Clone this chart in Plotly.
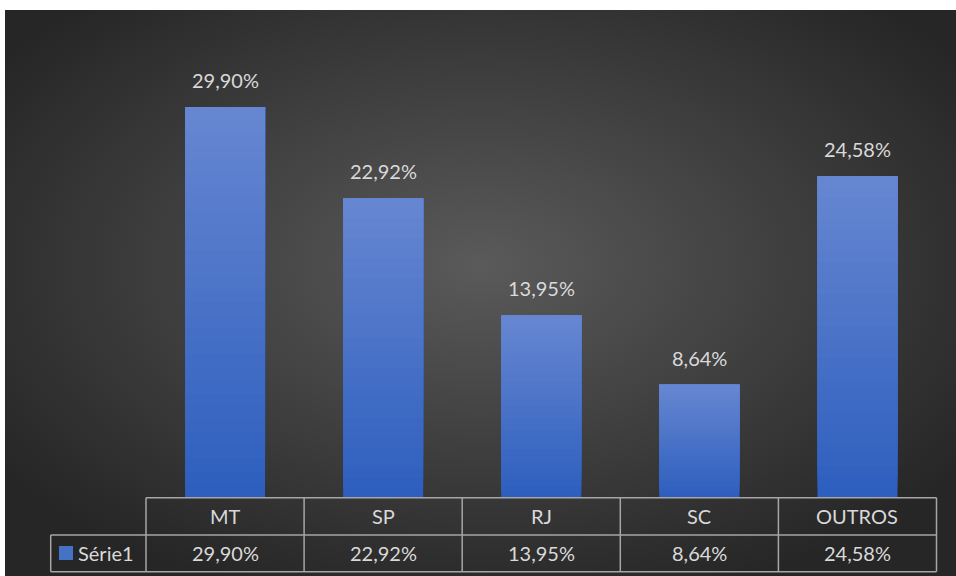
import plotly.graph_objects as go
import urllib.parse

categories = ["MT", "SP", "RJ", "SC", "OUTROS"]
values = [29.90, 22.92, 13.95, 8.64, 24.58]
series_name = "Série1"

W, H = 956, 576
def px(x):
    return x / W
def py(y):
    return 1 - y / H

def fmt(v):
    return f"{v:.2f}".replace(".", ",") + "%"

# table geometry (pixels)
col_left, col_right = 146, 936.5
row_top, row_mid, row_bot = 497.7, 535, 571.7
leg_left = 50.7
ncol = len(categories)
colw = (col_right - col_left) / ncol

FONT = "Lato"
TXT = "#d9d9d9"
LINE = "#a6a6a6"

top_c = (0x66, 0x86, 0xd1)
bot_c = (0x2e, 0x5f, 0xbe)
N = 30

fig = go.Figure()
for k in range(N):
    t = k / (N - 1)
    c = tuple(round(bot_c[i] + (top_c[i] - bot_c[i]) * t) for i in range(3))
    frac = k / N
    fig.add_trace(go.Bar(
        x=categories,
        y=[v * (1 - frac) for v in values],
        base=[v * frac for v in values],
        marker=dict(color="rgb(%d,%d,%d)" % c, line=dict(width=0)),
        showlegend=False, hoverinfo="skip",
    ))

svg = ("<svg xmlns='http://www.w3.org/2000/svg' width='951' height='566' viewBox='0 0 951 566' preserveAspectRatio='none'>"
       "<defs><radialGradient id='g' cx='50%' cy='45%' r='62%'>"
       "<stop offset='0' stop-color='#5a5a5a'/><stop offset='1' stop-color='#262626'/>"
       "</radialGradient></defs><rect width='951' height='566' fill='url(#g)'/></svg>")
src = "data:image/svg+xml;charset=utf-8," + urllib.parse.quote(svg)

shapes = []
def hline(x0, x1, y):
    shapes.append(dict(type="line", xref="paper", yref="paper", x0=px(x0), x1=px(x1), y0=py(y), y1=py(y),
                       line=dict(color=LINE, width=1.5)))
def vline(x, y0, y1):
    shapes.append(dict(type="line", xref="paper", yref="paper", x0=px(x), x1=px(x), y0=py(y0), y1=py(y1),
                       line=dict(color=LINE, width=1.5)))

hline(col_left, col_right, row_top)
hline(leg_left, col_right, row_mid)
hline(leg_left, col_right, row_bot)
vline(leg_left, row_mid, row_bot)
for i in range(ncol + 1):
    vline(col_left + i * colw, row_top, row_bot)

# legend key square
shapes.append(dict(type="rect", xref="paper", yref="paper", x0=px(59), x1=px(73), y0=py(560), y1=py(546),
                   fillcolor="#4472c4", line=dict(width=0)))

annotations = []
# data labels above bars
for c, v in zip(categories, values):
    annotations.append(dict(x=c, y=v, xref="x", yref="y", text=fmt(v), showarrow=False,
                            xanchor="center", yanchor="middle", yshift=27,
                            font=dict(family=FONT, size=20, color=TXT)))
for i, (c, v) in enumerate(zip(categories, values)):
    cx = col_left + (i + 0.5) * colw
    annotations.append(dict(x=px(cx), y=py((row_top + row_mid) / 2), xref="paper", yref="paper",
                            text=c, showarrow=False, xanchor="center", yanchor="middle",
                            font=dict(family=FONT, size=20, color=TXT)))
    annotations.append(dict(x=px(cx), y=py((row_mid + row_bot) / 2), xref="paper", yref="paper",
                            text=fmt(v), showarrow=False,
                            xanchor="center", yanchor="middle",
                            font=dict(family=FONT, size=20, color=TXT)))
annotations.append(dict(x=px(76), y=py((row_mid + row_bot) / 2), xref="paper", yref="paper",
                        text=series_name, showarrow=False, xanchor="left", yanchor="middle",
                        font=dict(family=FONT, size=20, color=TXT)))

fig.update_layout(
    width=W, height=H,
    margin=dict(l=0, r=0, t=0, b=0),
    paper_bgcolor="white", plot_bgcolor="rgba(0,0,0,0)",
    barmode="overlay", bargap=0.494,
    images=[dict(source=src, xref="paper", yref="paper", x=px(5), y=py(10),
                 sizex=px(951), sizey=566 / H, xanchor="left", yanchor="top",
                 sizing="stretch", layer="below")],
    xaxis=dict(domain=[px(col_left), px(col_right)], showticklabels=False, showgrid=False,
               zeroline=False, showline=False, fixedrange=True),
    yaxis=dict(domain=[py(row_top), py(40.25)], range=[0, 35], showticklabels=False,
               showgrid=False, zeroline=False, showline=False, fixedrange=True),
    shapes=shapes, annotations=annotations,
    font=dict(family=FONT, color=TXT),
)

fig.write_html("out.html", config={"displayModeBar": False},
               post_script="document.body.style.margin='0';document.body.style.overflow='hidden';")
